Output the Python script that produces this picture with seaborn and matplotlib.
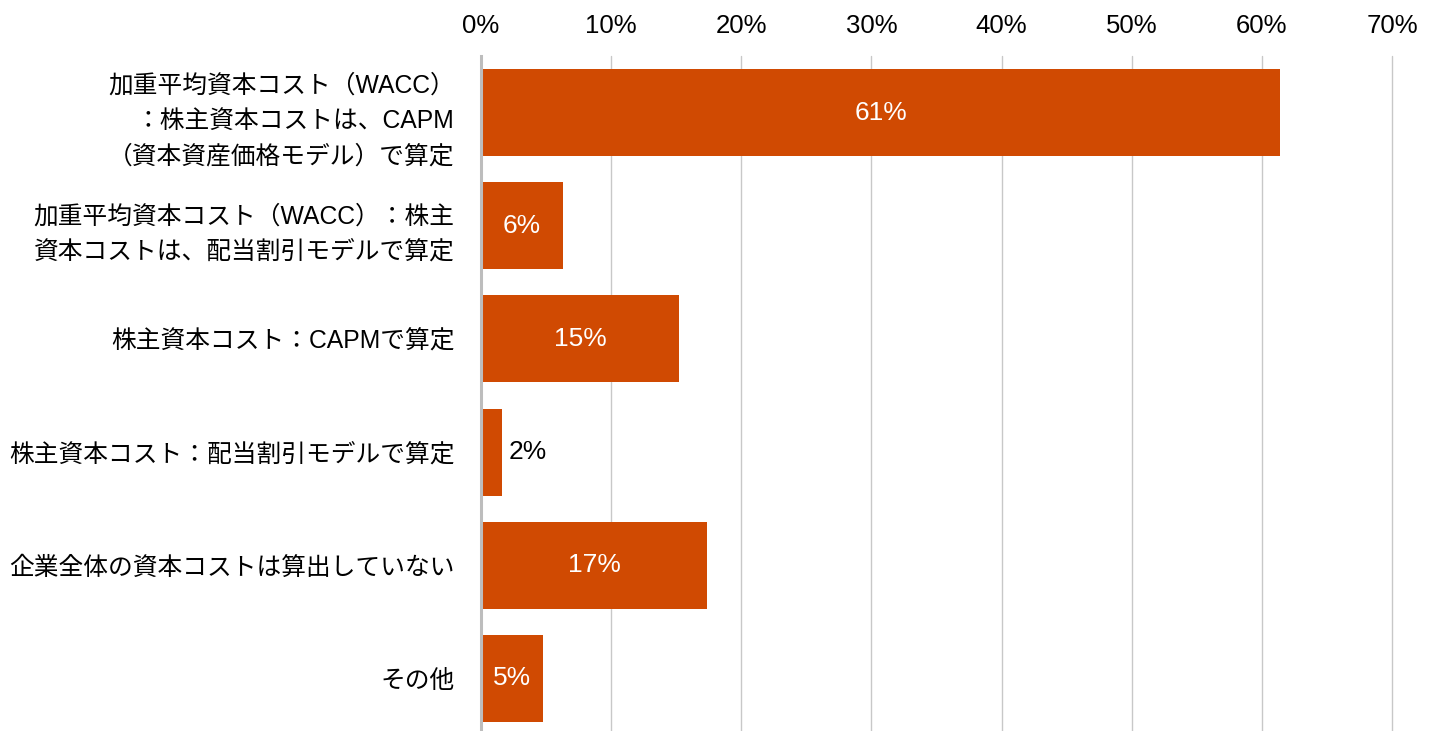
import matplotlib
matplotlib.use("Agg")
import matplotlib.pyplot as plt
import seaborn as sns
import pandas as pd

# Survey: how the company-wide cost of capital is calculated
categories = [
    "加重平均資本コスト（WACC）\n：株主資本コストは、CAPM\n（資本資産価格モデル）で算定",
    "加重平均資本コスト（WACC）：株主\n資本コストは、配当割引モデルで算定",
    "株主資本コスト：CAPMで算定",
    "株主資本コスト：配当割引モデルで算定",
    "企業全体の資本コストは算出していない",
    "その他",
]
shares = [61.4, 6.3, 15.2, 1.6, 17.4, 4.8]
x_ticks = [0, 10, 20, 30, 40, 50, 60, 70]

BAR = "#D04A02"
GRID = "#C8C8C8"

sns.set_theme(style="white")
plt.rcParams["font.family"] = ["Liberation Sans", "Noto Sans CJK JP", "DejaVu Sans"]

df = pd.DataFrame({"category": categories, "share": shares})

fig = plt.figure(figsize=(14.35, 7.31), dpi=100)
ax = fig.add_axes([481 / 1435, -4 / 731, (1392 - 481) / 1435, 679 / 731])

sns.barplot(data=df, x="share", y="category", orient="h", color=BAR,
            saturation=1, width=0.77, linewidth=0, ax=ax)

ax.set_xlim(0, 70)
ax.set_ylim(5.5, -0.5)
ax.set_xticks(x_ticks)
ax.set_xticklabels([f"{t}%" for t in x_ticks])
ax.xaxis.tick_top()
ax.tick_params(axis="x", length=0, pad=13, labelsize=18.5, colors="#000000")
ax.tick_params(axis="y", length=0, pad=19, labelsize=17.8, colors="#000000")
for lab in ax.get_yticklabels():
    lab.set_linespacing(1.62)
    lab.set_horizontalalignment("right")
ax.set_xlabel("")
ax.set_ylabel("")

ax.set_axisbelow(True)
ax.xaxis.grid(True, color=GRID, linewidth=1.0)
ax.yaxis.grid(False)
for line in ax.get_xgridlines():
    line.set_clip_on(False)
for side in ["top", "right", "bottom"]:
    ax.spines[side].set_visible(False)
ax.spines["left"].set_color("#BDBDBD")
ax.spines["left"].set_linewidth(2.2)

# value labels: white inside the bar, dark beside very short bars
for i, v in enumerate(shares):
    txt = f"{round(v)}%"
    if v < 4:
        ax.text(v + 0.5, i, txt, ha="left", va="center", fontsize=19, color="#000000")
    else:
        ax.text(v / 2, i, txt, ha="center", va="center", fontsize=19, color="#FFFFFF")

fig.savefig("out.png", dpi=100)
